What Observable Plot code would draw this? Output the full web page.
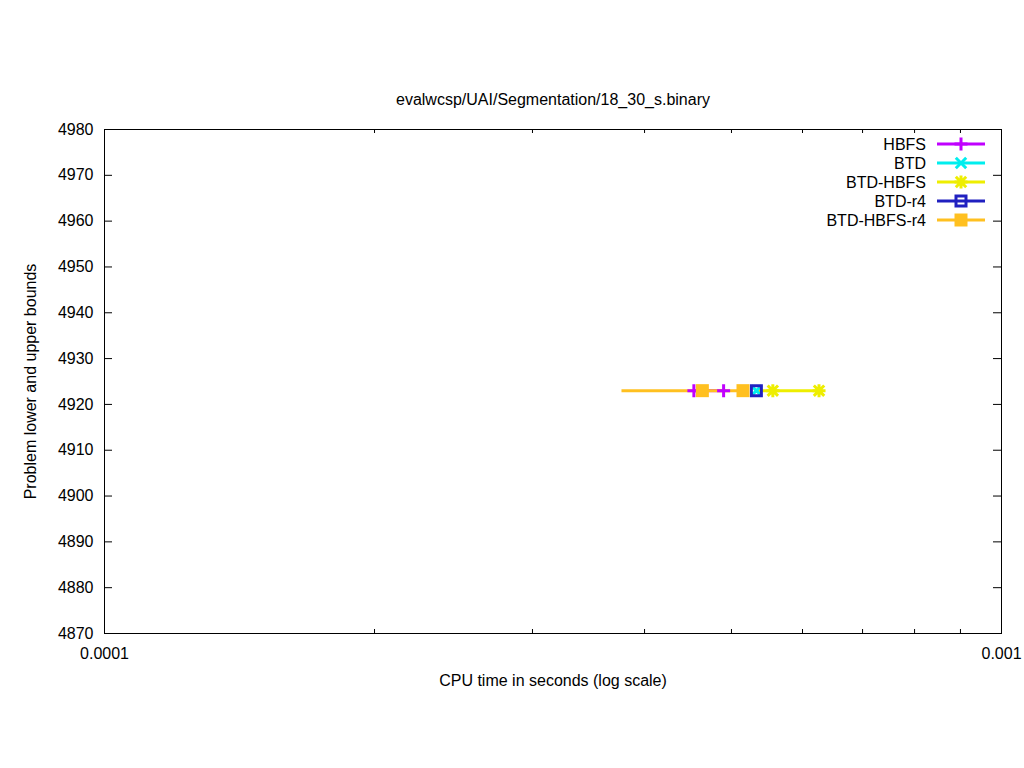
<!DOCTYPE html>
<html><head><meta charset="utf-8">
<script src="https://cdn.jsdelivr.net/npm/d3@7"></script>
<script src="https://cdn.jsdelivr.net/npm/@observablehq/plot@0.6"></script>
<style>
body{margin:0;background:#fff;}
#wrap{position:relative;width:1024px;height:768px;font-family:"Liberation Sans",Arial,sans-serif;}
#wrap svg{position:absolute;left:0;top:0;}
</style></head><body><div id="wrap"></div>
<script>
// ---- text ----
const title = "evalwcsp/UAI/Segmentation/18_30_s.binary";
const xLabel = "CPU time in seconds (log scale)";
const yLabel = "Problem lower and upper bounds";

// ---- series ----
const seriesNames = ["HBFS", "BTD", "BTD-HBFS", "BTD-r4", "BTD-HBFS-r4"];
const seriesColors = ["#c000ff", "#00eeee", "#eeee00", "#2020c0", "#ffc020"];

const hbfsTime = [4.54e-4, 4.90e-4];
const hbfsBound = [4923, 4923];
const btdTime = [5.33e-4];
const btdBound = [4923];
const btdHbfsTime = [5.56e-4, 6.26e-4];
const btdHbfsBound = [4923, 4923];
const btdR4Time = [5.33e-4];
const btdR4Bound = [4923];
const btdHbfsR4Time = [4.64e-4, 5.15e-4];
const btdHbfsR4Bound = [4923, 4923];
// time at which each bound trace starts (before its first marker), null = at first marker
const traceStart = [null, null, 5.33e-4, null, 3.77e-4];

// ---- ticks ----
const xTicks = [1e-4, 1e-3];
const xTickLabels = ["0.0001", "0.001"];
const xMinorTicks = [2e-4, 3e-4, 4e-4, 5e-4, 6e-4, 7e-4, 8e-4, 9e-4];
const yTicks = [4870, 4880, 4890, 4900, 4910, 4920, 4930, 4940, 4950, 4960, 4970, 4980];

// ---- layout ----
const W = 1024, H = 768;
const mTop = 129, mRight = 23, mBottom = 135, mLeft = 104;
const frameW = W - mLeft - mRight, frameH = H - mTop - mBottom;
const majorLen = 8, minorLen = 4;
const font = "Liberation Sans, Arial, sans-serif";
const fontSize = 16;

// ---- symbols (size = pi r^2, r = full width in px) ----
const halfOf = s => Math.sqrt(s / Math.PI) / 2;
const symPlus = {draw(c, s){const h = halfOf(s); c.moveTo(-h,0); c.lineTo(h,0); c.moveTo(0,-h); c.lineTo(0,h);}};
const symTimes = {draw(c, s){const h = halfOf(s)*0.8; c.moveTo(-h,-h); c.lineTo(h,h); c.moveTo(-h,h); c.lineTo(h,-h);}};
const symStar = {draw(c, s){const h = halfOf(s); const d = h*0.8; c.moveTo(-h,0); c.lineTo(h,0); c.moveTo(0,-h); c.lineTo(0,h); c.moveTo(-d,-d); c.lineTo(d,d); c.moveTo(-d,d); c.lineTo(d,-d);}};
const symBox = {draw(c, s){const h = halfOf(s) - 1.5; c.moveTo(-h,-h); c.lineTo(h,-h); c.lineTo(h,h); c.lineTo(-h,h); c.closePath();}};
const symFill = {draw(c, s){const h = halfOf(s); c.moveTo(-h,-h); c.lineTo(h,-h); c.lineTo(h,h); c.lineTo(-h,h); c.closePath();}};
const seriesSymbols = [symPlus, symTimes, symStar, symBox, symFill];
const seriesFilled = [false, false, false, false, true];
const markerSize = 13;

const times = [hbfsTime, btdTime, btdHbfsTime, btdR4Time, btdHbfsR4Time];
const bounds = [hbfsBound, btdBound, btdHbfsBound, btdR4Bound, btdHbfsR4Bound];

const pointRows = seriesNames.map((name, k) => times[k].map((t, i) => ({series: name, time: t, bound: bounds[k][i]})));
const lineRows = seriesNames.map((name, k) => (traceStart[k] != null ? [{series: name, time: traceStart[k], bound: bounds[k][0]}] : []).concat(pointRows[k]));

const lineMarks = lineRows.map((rows, k) => Plot.line(rows, {x: "time", y: "bound", stroke: seriesColors[k], strokeWidth: 3, strokeLinecap: "butt"}));
const dotMarks = pointRows.map((rows, k) => Plot.dot(rows, {
  x: "time", y: "bound", r: markerSize, symbol: seriesSymbols[k],
  fill: seriesFilled[k] ? seriesColors[k] : "none",
  stroke: seriesFilled[k] ? "none" : seriesColors[k],
  strokeWidth: 3, strokeLinecap: "butt"
}));

const chart = Plot.plot({
  width: W, height: H,
  marginTop: mTop, marginRight: mRight, marginBottom: mBottom, marginLeft: mLeft,
  x: {type: "log", domain: [xTicks[0], xTicks[xTicks.length - 1]]},
  y: {domain: [yTicks[0], yTicks[yTicks.length - 1]]},
  style: {fontFamily: font, fontSize: fontSize + "px", background: "white", color: "black"},
  marks: [
    Plot.axisX({ticks: xTicks, tickSize: 0, tickPadding: 14, fontSize, tickFormat: d => xTickLabels[xTicks.indexOf(d)], label: null}),
    Plot.axisY({ticks: yTicks, tickSize: 0, tickPadding: 11, fontSize, tickFormat: d => String(d), label: null}),
    Plot.tickX(xMinorTicks, {x: d => d, insetTop: frameH - minorLen, stroke: "black"}),
    Plot.tickX(xMinorTicks, {x: d => d, insetBottom: frameH - minorLen, stroke: "black"}),
    Plot.tickY(yTicks, {y: d => d, insetRight: frameW - majorLen, stroke: "black"}),
    Plot.tickY(yTicks, {y: d => d, insetLeft: frameW - majorLen, stroke: "black"}),
    ...lineMarks,
    ...dotMarks,
    Plot.frame({stroke: "black", strokeWidth: 1}),
    Plot.text([title], {text: d => d, frameAnchor: "top", dy: -30, lineAnchor: "middle", textAnchor: "middle", fontSize, fill: "black"}),
    Plot.text([xLabel], {text: d => d, frameAnchor: "bottom", dy: 47, lineAnchor: "middle", textAnchor: "middle", fontSize, fill: "black"}),
    Plot.text([yLabel], {text: d => d, frameAnchor: "left", dx: -74, rotate: -90, lineAnchor: "middle", textAnchor: "middle", fontSize, fill: "black"})
  ]
});
document.getElementById("wrap").appendChild(chart);

// ---- legend (top-right, inside frame) ----
const leg = d3.select("#wrap").append("svg").attr("width", W).attr("height", H).style("pointer-events", "none");
const legRight = W - mRight - 75, legTop = mTop + 15, legStep = 19;
const sampleX0 = W - mRight - 64, sampleX1 = W - mRight - 16, sampleMid = (sampleX0 + sampleX1) / 2;
seriesNames.forEach((name, k) => {
  const y = legTop + k * legStep;
  const g = leg.append("g");
  g.append("text").attr("x", legRight).attr("y", y).attr("dy", "0.35em").attr("text-anchor", "end")
    .attr("font-family", font).attr("font-size", fontSize).attr("fill", "black").text(name);
  g.append("line").attr("x1", sampleX0).attr("x2", sampleX1).attr("y1", y).attr("y2", y)
    .attr("stroke", seriesColors[k]).attr("stroke-width", 3);
  g.append("path").attr("transform", `translate(${sampleMid},${y})`)
    .attr("d", d3.symbol(seriesSymbols[k], Math.PI * markerSize * markerSize)())
    .attr("fill", seriesFilled[k] ? seriesColors[k] : "none")
    .attr("stroke", seriesFilled[k] ? "none" : seriesColors[k]).attr("stroke-width", 3);
});
</script></body></html>
